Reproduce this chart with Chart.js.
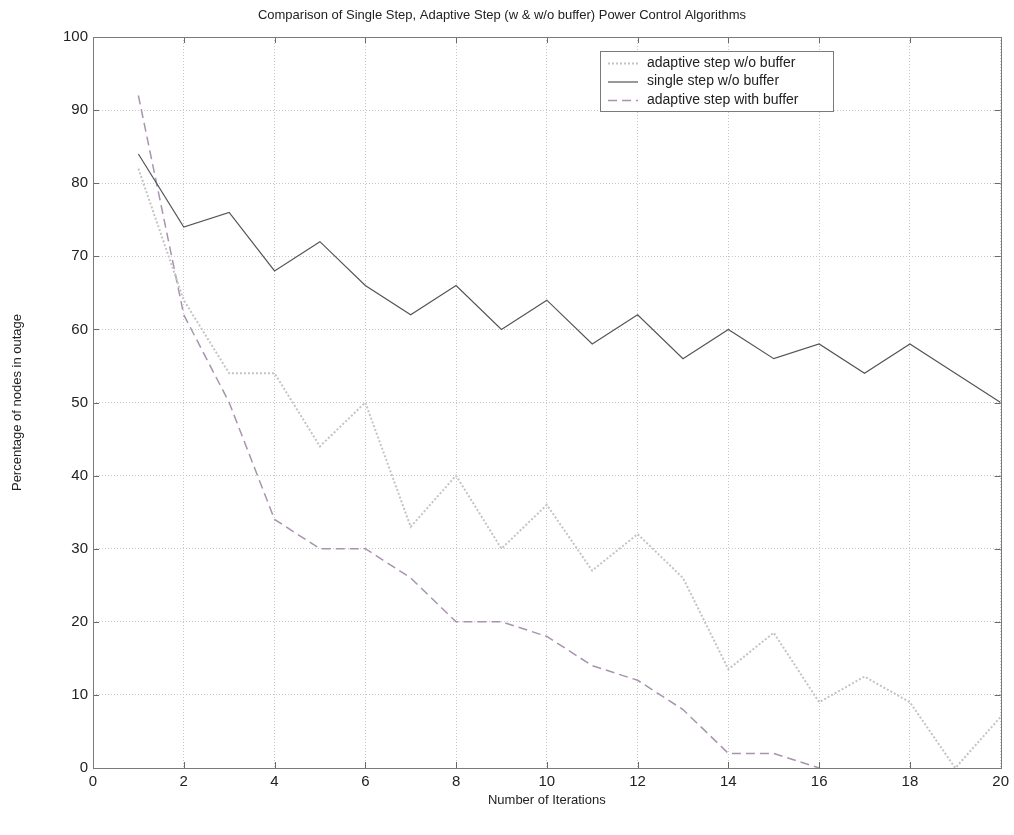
<!DOCTYPE html>
<html>
<head>
<meta charset="utf-8">
<script src="https://cdn.jsdelivr.net/npm/chart.js@4.4.1/dist/chart.umd.min.js"></script>
<style>
  html, body { margin: 0; padding: 0; background: #fff; }
  #wrap { width: 1014px; height: 835px; }
</style>
</head>
<body>
<div id="wrap"><canvas id="c"></canvas></div>
<script>
const iterations = [1, 2, 3, 4, 5, 6, 7, 8, 9, 10, 11, 12, 13, 14, 15, 16, 17, 18, 19, 20];
const adaptiveNoBuffer = [82, 64, 54, 54, 44, 50, 33, 40, 30, 36, 27, 32, 26, 13.5, 18.5, 9, 12.5, 9, 0, 7];
const singleNoBuffer = [84, 74, 76, 68, 72, 66, 62, 66, 60, 64, 58, 62, 56, 60, 56, 58, 54, 58, 54, 50];
const adaptiveWithBuffer = [92, 62, 50, 34, 30, 30, 26, 20, 20, 18, 14, 12, 8, 2, 2, 0, null, null, null, null];
const xTicks = [0, 2, 4, 6, 8, 10, 12, 14, 16, 18, 20];
const yTicks = [0, 10, 20, 30, 40, 50, 60, 70, 80, 90, 100];

const FONT = "'Liberation Sans', Arial, sans-serif";

function pts(vals) {
  return iterations.map((x, i) => ({ x: x, y: vals[i] }));
}

// MATLAB style: tick marks drawn inward on all four sides
const innerTicks = {
  id: 'innerTicks',
  afterDatasetsDraw(chart) {
    const { ctx, chartArea: a, scales } = chart;
    ctx.save();
    ctx.strokeStyle = '#6a6a6a';
    ctx.lineWidth = 1;
    const len = 6;
    ctx.beginPath();
    xTicks.forEach(v => {
      const px = Math.round(scales.x.getPixelForValue(v)) + 0.5;
      ctx.moveTo(px, a.bottom); ctx.lineTo(px, a.bottom - len);
      ctx.moveTo(px, a.top); ctx.lineTo(px, a.top + len);
    });
    yTicks.forEach(v => {
      const py = Math.round(scales.y.getPixelForValue(v)) + 0.5;
      ctx.moveTo(a.left, py); ctx.lineTo(a.left + len, py);
      ctx.moveTo(a.right, py); ctx.lineTo(a.right - len, py);
    });
    ctx.stroke();
    ctx.strokeStyle = '#7a7a7a';
    ctx.strokeRect(Math.round(a.left) + 0.5, Math.round(a.top) + 0.5,
      Math.round(a.right - a.left), Math.round(a.bottom - a.top));
    ctx.restore();
  }
};

// legend box in the upper right of the plot, like the original figure
const boxLegend = {
  id: 'boxLegend',
  afterDraw(chart) {
    const { ctx } = chart;
    const x0 = 600, y0 = 51, w = 233, h = 60;
    ctx.save();
    ctx.fillStyle = '#fff';
    ctx.fillRect(x0, y0, w, h);
    ctx.strokeStyle = '#7a7a7a';
    ctx.lineWidth = 1;
    ctx.strokeRect(x0 + 0.5, y0 + 0.5, w, h);
    ctx.font = '14px ' + FONT;
    ctx.textBaseline = 'middle';
    chart.data.datasets.forEach((ds, i) => {
      const y = y0 + 12 + i * 18.5;
      ctx.strokeStyle = ds.borderColor;
      ctx.lineWidth = ds.borderWidth;
      ctx.setLineDash(ds.borderDash || []);
      ctx.beginPath();
      ctx.moveTo(x0 + 8, y + 0.5);
      ctx.lineTo(x0 + 38, y + 0.5);
      ctx.stroke();
      ctx.setLineDash([]);
      ctx.fillStyle = '#222';
      ctx.fillText(ds.label, x0 + 47, y);
    });
    ctx.restore();
  }
};

new Chart(document.getElementById('c'), {
  type: 'line',
  data: {
    datasets: [
      {
        label: 'adaptive step w/o buffer',
        data: pts(adaptiveNoBuffer),
        borderColor: '#c4c4c4',
        borderWidth: 2,
        borderDash: [2, 2]
      },
      {
        label: 'single step w/o buffer',
        data: pts(singleNoBuffer),
        borderColor: '#555555',
        borderWidth: 1.2
      },
      {
        label: 'adaptive step with buffer',
        data: pts(adaptiveWithBuffer),
        borderColor: '#a894ae',
        borderWidth: 1.5,
        borderDash: [9, 5]
      }
    ]
  },
  options: {
    responsive: true,
    maintainAspectRatio: false,
    animation: false,
    layout: { padding: { left: 0, right: 10, top: 0, bottom: 0 } },
    elements: { point: { radius: 0 }, line: { tension: 0 } },
    plugins: {
      legend: { display: false },
      tooltip: { enabled: false },
      title: {
        display: true,
        text: 'Comparison of Single Step, Adaptive Step (w & w/o buffer) Power Control Algorithms',
        color: '#222',
        font: { family: FONT, size: 13, weight: 'normal' },
        padding: { top: 8, bottom: 13.4 }
      }
    },
    scales: {
      x: {
        type: 'linear',
        min: 0,
        max: 20,
        afterFit(s) { s.height = 67; },
        afterBuildTicks(s) { s.ticks = xTicks.map(v => ({ value: v })); },
        grid: { color: '#c8c8c8', drawTicks: false },
        border: { display: false, dash: [1, 2] },
        ticks: { color: '#222', padding: 5, font: { family: FONT, size: 15 } },
        title: {
          display: true,
          text: 'Number of Iterations',
          color: '#222',
          font: { family: FONT, size: 13 },
          padding: { top: 0, bottom: 27 }
        }
      },
      y: {
        min: 0,
        max: 100,
        afterFit(s) { s.width = 93; },
        afterBuildTicks(s) { s.ticks = yTicks.map(v => ({ value: v })); },
        grid: { color: '#c8c8c8', drawTicks: false },
        border: { display: false, dash: [1, 2] },
        ticks: { color: '#222', padding: 5, font: { family: FONT, size: 15 } },
        title: {
          display: true,
          text: 'Percentage of nodes in outage',
          color: '#222',
          font: { family: FONT, size: 13 },
          padding: { top: 10, bottom: 0 }
        }
      }
    }
  },
  plugins: [innerTicks, boxLegend]
});
</script>
</body>
</html>
